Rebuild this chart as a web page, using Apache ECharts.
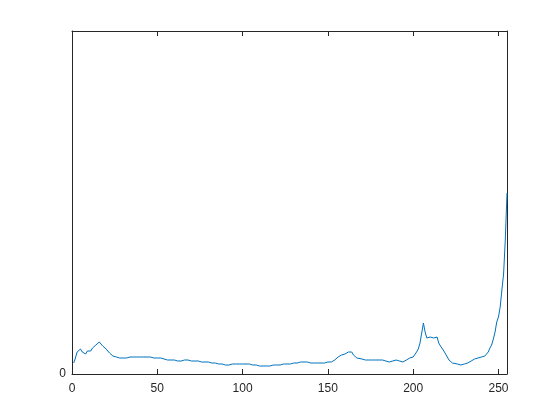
<!DOCTYPE html>
<html>
<head>
<meta charset="utf-8">
<script src="https://cdn.jsdelivr.net/npm/echarts@6/dist/echarts.min.js"></script>
<style>
  html, body { margin: 0; padding: 0; background: #fff; }
  #chart { width: 560px; height: 420px; }
</style>
</head>
<body>
<div id="chart"></div>
<script>
// intensity bins and the counts (y in arbitrary units, 0..343)
const bins = [1, 2, 3, 4, 5, 6, 7, 8, 9, 10, 11, 12, 13, 14, 15, 16, 17, 18, 19, 20,
  21, 22, 23, 24, 26, 28, 30, 32, 34, 36, 38, 40, 42, 44, 46, 48, 50, 52, 54, 56,
  58, 60, 62, 64, 66, 68, 70, 72, 74, 76, 78, 80, 82, 84, 86, 88, 90, 92, 94, 96,
  98, 100, 102, 104, 106, 108, 110, 112, 114, 116, 118, 120, 122, 124, 126, 128, 130, 132, 134, 136,
  138, 140, 142, 144, 146, 148, 150, 152, 154, 155, 156, 157, 158, 159, 160, 161, 162, 163, 164, 165,
  166, 167, 168, 170, 172, 174, 176, 178, 180, 182, 184, 186, 188, 190, 192, 194, 196, 198, 200, 201,
  202, 203, 204, 205, 206, 207, 208, 209, 210, 211, 212, 213, 214, 215, 216, 217, 218, 219, 220, 221,
  222, 223, 224, 226, 228, 230, 232, 234, 236, 237, 238, 240, 242, 243, 244, 245, 246, 247, 248, 249,
  250, 251, 252, 253, 254, 255]
const counts = [11, 16, 22, 24, 25, 22, 20, 20, 23, 24, 23, 26, 27, 29, 30, 32, 31, 28, 26, 25,
  23, 21, 20, 18, 17, 16, 16, 16, 17, 17, 17, 17, 17, 17, 17, 16, 16, 16, 15, 14,
  14, 14, 13, 13, 14, 14, 13, 13, 13, 12, 12, 12, 11, 11, 10, 10, 9, 9, 10, 10,
  10, 10, 10, 10, 9, 9, 8, 8, 8, 8, 9, 9, 9, 10, 10, 10, 11, 11, 12, 12,
  12, 11, 11, 11, 11, 11, 12, 12, 14, 15, 17, 18, 19, 19, 20, 21, 22, 22, 22, 19,
  17, 16, 15, 15, 14, 14, 14, 14, 14, 14, 13, 12, 13, 14, 13, 12, 14, 16, 17, 19,
  22, 25, 31, 41, 51, 42, 36, 38, 37, 37, 36, 36, 37, 31, 28, 27, 23, 20, 17, 14,
  12, 11, 10, 10, 9, 10, 11, 13, 15, 16, 16, 17, 18, 20, 22, 26, 29, 35, 42, 52,
  57, 67, 84, 100, 134, 181]
const xTicks = [0, 50, 100, 150, 200, 250]
const yTicks = [0]
const yMax = 343

const points = bins.map((b, i) => [b, counts[i]])
const txt = '#262626'
const font = 'Liberation Sans, Arial, sans-serif'
const axisLine = { show: true, onZero: false, lineStyle: { color: txt, width: 1 } }
const xTick = { show: true, inside: true, length: 5, customValues: xTicks, lineStyle: { color: txt } }

const chart = echarts.init(document.getElementById('chart'))
chart.setOption({
  animation: false,
  backgroundColor: '#fff',
  grid: { left: 72, right: 53, top: 31, bottom: 46 },
  xAxis: [
    {
      type: 'value', min: 0, max: 255, position: 'bottom',
      axisLine,
      axisTick: xTick,
      axisLabel: { color: txt, fontSize: 12, fontFamily: font, margin: 9, customValues: xTicks },
      splitLine: { show: false }
    },
    {
      type: 'value', min: 0, max: 255, position: 'top',
      axisLine,
      axisTick: xTick,
      axisLabel: { show: false },
      splitLine: { show: false }
    }
  ],
  yAxis: [
    {
      type: 'value', min: 0, max: yMax, position: 'left',
      axisLine,
      axisTick: { show: false },
      axisLabel: { color: txt, fontSize: 12, fontFamily: font, margin: 6, customValues: yTicks },
      splitLine: { show: false }
    },
    {
      type: 'value', min: 0, max: yMax, position: 'right',
      axisLine,
      axisTick: { show: false },
      axisLabel: { show: false },
      splitLine: { show: false }
    }
  ],
  series: [
    {
      type: 'line',
      data: points,
      showSymbol: false,
      lineStyle: { color: '#0072BD', width: 1 },
      xAxisIndex: 0,
      yAxisIndex: 0
    }
  ]
})
</script>
</body>
</html>
